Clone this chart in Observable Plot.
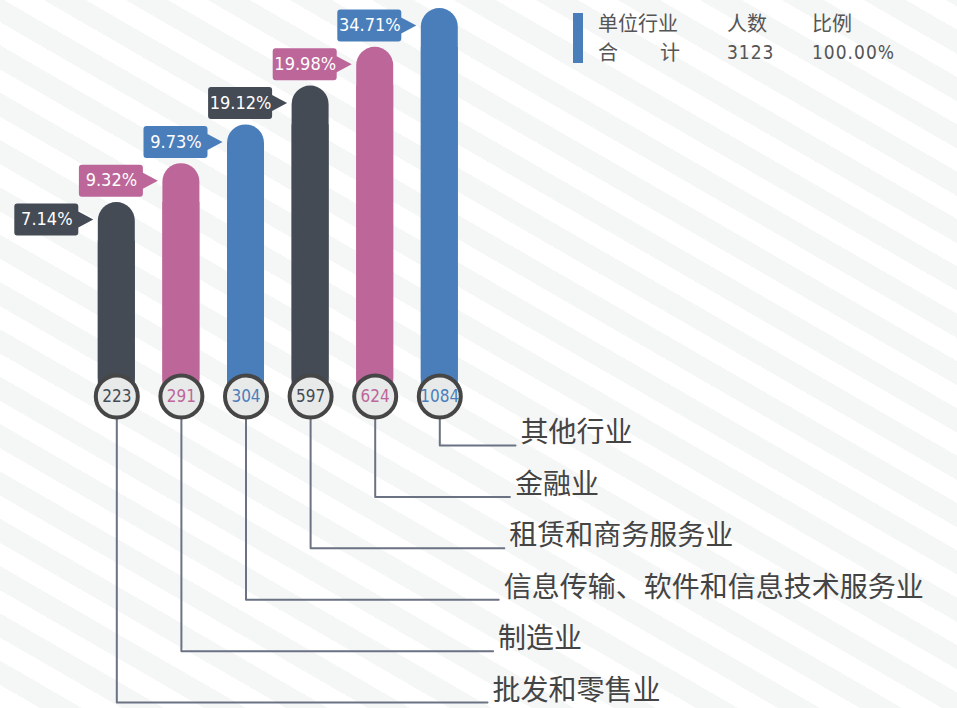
<!DOCTYPE html>
<html>
<head>
<meta charset="utf-8">
<script src="https://cdn.jsdelivr.net/npm/d3@7"></script>
<script src="https://cdn.jsdelivr.net/npm/@observablehq/plot@0.6"></script>
<style>
  body { margin: 0; background: #fff; }
  #wrap {
    position: relative; width: 957px; height: 708px; overflow: hidden;
    background: repeating-linear-gradient(30deg, #ffffff 0px, #ffffff 20px, #f5f6f6 20px, #f5f6f6 41px);
  }
  #chart { position: absolute; left: 0; top: 0; }
  g[aria-label="pct"] text { letter-spacing: 1.5px; }
  .lg { position: absolute; color: #555; font-size: 20px; line-height: 20px; white-space: nowrap; font-family: "Noto Sans CJK SC", sans-serif; }
  .num { font-family: "DejaVu Sans Condensed", Roboto, sans-serif; font-size: 19px; letter-spacing: 1px; }
  #lgbar { position: absolute; left: 573px; top: 13px; width: 10px; height: 50px; background: #4a7ebb; }
</style>
</head>
<body>
<div id="wrap">
  <div id="chart"></div>
  <div id="legend"></div>
</div>
<script>
// ---- data ----
const categories = ["批发和零售业", "制造业", "信息传输、软件和信息技术服务业", "租赁和商务服务业", "金融业", "其他行业"];
const counts = [223, 291, 304, 597, 624, 1084];
const shares = [7.14, 9.32, 9.73, 19.12, 19.98, 34.71];
const palette = ["#444b55", "#bc6699", "#4a7ebb"];
const legendHeaders = ["单位行业", "人数", "比例"];
const legendTotalLabel = ["合", "计"];

// ---- derived table ----
const data = categories.map((c, i) => ({
  category: c, count: counts[i], share: shares[i], i,
  level: i + 5,              // bar height encodes rank order
  color: palette[i % 3]
}));
const total = d3.sum(counts);

// layout helpers (in scale units)
const hw = 18.5 / 64.6;
const rowY = d => -1.263 - 1.325 * (5 - d.i);
const labelX = d => (492 + 5.6 * d.i - 116.3) / 64.6;
const lineEndX = d => labelX(d) - 5 / 64.6;

const connectors = data.flatMap(d => [
  {category: d.category, x: d.i, y: 0},
  {category: d.category, x: d.i, y: rowY(d)},
  {category: d.category, x: lineEndX(d), y: rowY(d)}
]);

const callout = {
  draw(ctx) {
    const L = -102.5, R = -38.5, T = 1, B = 33, r = 3, tip = -23.5;
    ctx.moveTo(L + r, T);
    ctx.lineTo(R - r, T);
    ctx.arcTo(R, T, R, T + r, r);
    ctx.lineTo(R, T + 8);
    ctx.lineTo(tip, T + 16);
    ctx.lineTo(R, T + 24);
    ctx.lineTo(R, B - r);
    ctx.arcTo(R, B, R - r, B, r);
    ctx.lineTo(L + r, B);
    ctx.arcTo(L, B, L, B - r, r);
    ctx.lineTo(L, T + r);
    ctx.arcTo(L, T, L + r, T, r);
    ctx.closePath();
  }
};

const numFont = "DejaVu Sans Condensed, Roboto, sans-serif";

const chart = Plot.plot({
  width: 957,
  height: 708,
  margin: 0,
  style: {background: "transparent", overflow: "visible"},
  x: {type: "linear", domain: [0, 5], range: [116.3, 439.3], axis: null},
  y: {type: "linear", domain: [0, 10], range: [396, 8], axis: null},
  color: {type: "identity"},
  marks: [
    Plot.line(connectors, {x: "x", y: "y", z: "category", stroke: "#6a7283", strokeWidth: 2, curve: "linear"}),
    Plot.rect(data, {x1: d => d.i - hw, x2: d => d.i + hw, y1: () => 0, y2: "level", fill: "color", rx: 18.5}),
    Plot.rect(data, {x1: d => d.i - hw, x2: d => d.i + hw, y1: () => 0, y2: d => d.level - 1, fill: "color"}),
    Plot.dot(data, {x: "i", y: () => 0, r: 21, fill: "#e8e9e9", stroke: "#464646", strokeWidth: 4}),
    Plot.text(data, {x: "i", y: () => 0, text: d => String(d.count), fill: "color", fontSize: 17, fontFamily: numFont}),
    Plot.dot(data, {x: "i", y: "level", symbol: callout, r: 10, fill: "color"}),
    Plot.text(data, {x: "i", y: "level", text: d => d.share.toFixed(2) + "%", dx: -70, dy: 17, fill: "white", fontSize: 18, fontFamily: numFont, ariaLabel: "pct"}),
    Plot.text(data, {x: labelX, y: rowY, text: "category", dy: -12, textAnchor: "start", fill: "#444", fontSize: 28, fontFamily: "Noto Sans CJK SC"})
  ]
});
document.getElementById("chart").appendChild(chart);

// ---- legend (HTML) ----
const lg = document.getElementById("legend");
function put(text, left, top, cls) {
  const s = document.createElement("div");
  s.className = "lg" + (cls ? " " + cls : "");
  s.style.left = left + "px";
  s.style.top = top + "px";
  s.textContent = text;
  lg.appendChild(s);
}
const bar = document.createElement("div"); bar.id = "lgbar"; lg.appendChild(bar);
put(legendHeaders[0], 598, 13);
put(legendHeaders[1], 727, 13);
put(legendHeaders[2], 812, 13);
put(legendTotalLabel[0], 598, 42);
put(legendTotalLabel[1], 660, 42);
put(String(total), 727, 42, "num");
put((100).toFixed(2) + "%", 812, 42, "num");
</script>
</body>
</html>
